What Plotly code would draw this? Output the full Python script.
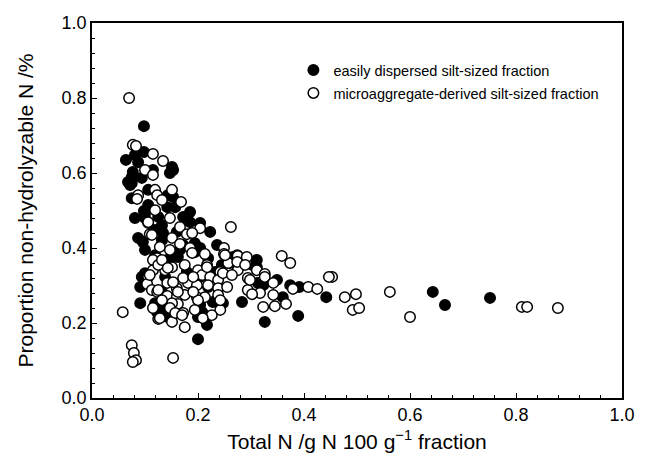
import plotly.graph_objects as go

# easily dispersed silt-sized fraction (filled)
ed_x = [0.098, 0.064, 0.081, 0.098, 0.087, 0.151, 0.153, 0.147, 0.115, 0.077,
        0.075, 0.075, 0.068, 0.094, 0.072, 0.106, 0.143, 0.153, 0.075, 0.106,
        0.142, 0.157, 0.185, 0.098, 0.081, 0.100, 0.125, 0.172, 0.100, 0.106,
        0.132, 0.185, 0.204, 0.119, 0.160, 0.134, 0.223, 0.087, 0.096, 0.132,
        0.172, 0.194, 0.100, 0.166, 0.204, 0.236, 0.119, 0.147, 0.162, 0.266,
        0.219, 0.194, 0.245, 0.270, 0.311, 0.302, 0.311, 0.274, 0.100, 0.179,
        0.094, 0.091, 0.132, 0.138, 0.204, 0.204, 0.219, 0.232, 0.119, 0.134,
        0.091, 0.123, 0.151, 0.208, 0.128, 0.143, 0.200, 0.204, 0.228, 0.247,
        0.283, 0.217, 0.200, 0.326, 0.389, 0.323, 0.313, 0.349, 0.360, 0.374,
        0.391, 0.442, 0.643, 0.666, 0.751]
ed_y = [0.725, 0.635, 0.648, 0.656, 0.629, 0.616, 0.608, 0.600, 0.608, 0.603,
        0.589, 0.573, 0.576, 0.587, 0.568, 0.555, 0.541, 0.536, 0.533, 0.515,
        0.509, 0.509, 0.496, 0.499, 0.480, 0.480, 0.483, 0.483, 0.493, 0.467,
        0.461, 0.469, 0.467, 0.448, 0.443, 0.440, 0.443, 0.427, 0.416, 0.421,
        0.408, 0.413, 0.395, 0.395, 0.400, 0.408, 0.381, 0.373, 0.376, 0.376,
        0.373, 0.389, 0.355, 0.373, 0.349, 0.355, 0.368, 0.381, 0.333, 0.336,
        0.323, 0.296, 0.283, 0.323, 0.323, 0.336, 0.296, 0.336, 0.253, 0.235,
        0.253, 0.229, 0.235, 0.229, 0.216, 0.216, 0.216, 0.248, 0.256, 0.253,
        0.256, 0.195, 0.157, 0.203, 0.219, 0.301, 0.307, 0.315, 0.269, 0.301,
        0.296, 0.269, 0.283, 0.248, 0.267]

# microaggregate-derived silt-sized fraction (open)
md_x = [0.070, 0.077, 0.083, 0.115, 0.134, 0.100, 0.115, 0.087, 0.085, 0.119,
        0.123, 0.151, 0.132, 0.168, 0.119, 0.147, 0.106, 0.166, 0.204, 0.109,
        0.179, 0.189, 0.113, 0.151, 0.128, 0.147, 0.166, 0.185, 0.189, 0.123,
        0.125, 0.115, 0.132, 0.151, 0.175, 0.115, 0.138, 0.200, 0.262, 0.249,
        0.249, 0.275, 0.291, 0.292, 0.311, 0.260, 0.213, 0.217, 0.242, 0.275,
        0.326, 0.358, 0.374, 0.106, 0.104, 0.113, 0.142, 0.160, 0.123, 0.142,
        0.160, 0.175, 0.181, 0.172, 0.198, 0.198, 0.162, 0.151, 0.115, 0.147,
        0.172, 0.194, 0.125, 0.151, 0.175, 0.157, 0.208, 0.223, 0.238, 0.247,
        0.264, 0.219, 0.238, 0.255, 0.238, 0.213, 0.200, 0.242, 0.226, 0.209,
        0.294, 0.109, 0.125, 0.132, 0.143, 0.153, 0.191, 0.217, 0.257, 0.251,
        0.274, 0.289, 0.326, 0.294, 0.317, 0.323, 0.242, 0.170, 0.128, 0.132,
        0.162, 0.191, 0.125, 0.345, 0.366, 0.379, 0.342, 0.342, 0.302, 0.298,
        0.453, 0.447, 0.562, 0.477, 0.498, 0.492, 0.504, 0.600, 0.408, 0.425,
        0.811, 0.821, 0.879, 0.058, 0.075, 0.079, 0.083, 0.077, 0.153]
md_y = [0.800, 0.675, 0.672, 0.651, 0.632, 0.608, 0.595, 0.541, 0.531, 0.555,
        0.541, 0.555, 0.528, 0.523, 0.501, 0.480, 0.469, 0.456, 0.453, 0.437,
        0.437, 0.440, 0.435, 0.427, 0.403, 0.395, 0.411, 0.400, 0.387, 0.373,
        0.360, 0.368, 0.363, 0.349, 0.355, 0.341, 0.341, 0.341, 0.456, 0.400,
        0.384, 0.379, 0.360, 0.376, 0.341, 0.360, 0.384, 0.355, 0.336, 0.341,
        0.331, 0.379, 0.360, 0.323, 0.304, 0.288, 0.307, 0.293, 0.283, 0.272,
        0.269, 0.275, 0.307, 0.320, 0.301, 0.269, 0.251, 0.253, 0.240, 0.240,
        0.227, 0.235, 0.211, 0.203, 0.189, 0.227, 0.328, 0.323, 0.315, 0.333,
        0.328, 0.301, 0.293, 0.296, 0.275, 0.269, 0.261, 0.235, 0.221, 0.213,
        0.320, 0.328, 0.355, 0.368, 0.347, 0.309, 0.323, 0.349, 0.360, 0.381,
        0.363, 0.355, 0.323, 0.288, 0.280, 0.243, 0.261, 0.221, 0.213, 0.261,
        0.283, 0.283, 0.288, 0.245, 0.251, 0.291, 0.275, 0.307, 0.277, 0.315,
        0.323, 0.323, 0.283, 0.269, 0.277, 0.235, 0.240, 0.216, 0.296, 0.291,
        0.243, 0.243, 0.240, 0.229, 0.141, 0.120, 0.101, 0.096, 0.107]

tick_vals = [0.0, 0.2, 0.4, 0.6, 0.8, 1.0]
tick_text = ['0.0', '0.2', '0.4', '0.6', '0.8', '1.0']

FONT = 'Liberation Sans, Arial'

fig = go.Figure()
fig.add_trace(go.Scatter(
    x=ed_x, y=ed_y, mode='markers', name='easily dispersed silt-sized fraction',
    legendgroup='a',
    marker=dict(size=10.5, color='black', line=dict(color='black', width=1.5))))
fig.add_trace(go.Scatter(
    x=md_x, y=md_y, mode='markers', name='microaggregate-derived silt-sized fraction',
    legendgroup='b',
    marker=dict(size=10.5, color='white', line=dict(color='black', width=1.5))))

axis_common = dict(
    range=[0, 1], tickvals=tick_vals, ticktext=tick_text,
    ticks='inside', ticklen=5, tickwidth=1.2, tickcolor='black',
    minor=dict(dtick=0.04, ticks='inside', ticklen=3, tickwidth=1, tickcolor='black'),
    showline=True, linecolor='black', linewidth=1.5, mirror=True,
    showgrid=False, zeroline=False, automargin=False,
    tickfont=dict(family=FONT, size=18, color='black'),
)

fig.update_xaxes(**axis_common,
                 title=dict(text='Total N /g N 100 g<sup>\u22121</sup> fraction',
                            font=dict(family=FONT, size=21, color='black'),
                            standoff=10))
fig.update_yaxes(**axis_common,
                 title=dict(text='Proportion non-hydrolyzable N /%',
                            font=dict(family=FONT, size=21, color='black'),
                            standoff=22))

# page body has an 8px margin, so the figure is sized to fit inside it
fig.update_layout(
    width=629, height=446,
    margin=dict(l=84, r=15, t=15, b=56, autoexpand=False),
    plot_bgcolor='white', paper_bgcolor='white',
    legend=dict(x=0.38, y=0.917, xanchor='left', yanchor='top',
                font=dict(family=FONT, size=14.5, color='black'),
                bgcolor='rgba(0,0,0,0)', tracegroupgap=1),
)

fig.write_html("out.html")
